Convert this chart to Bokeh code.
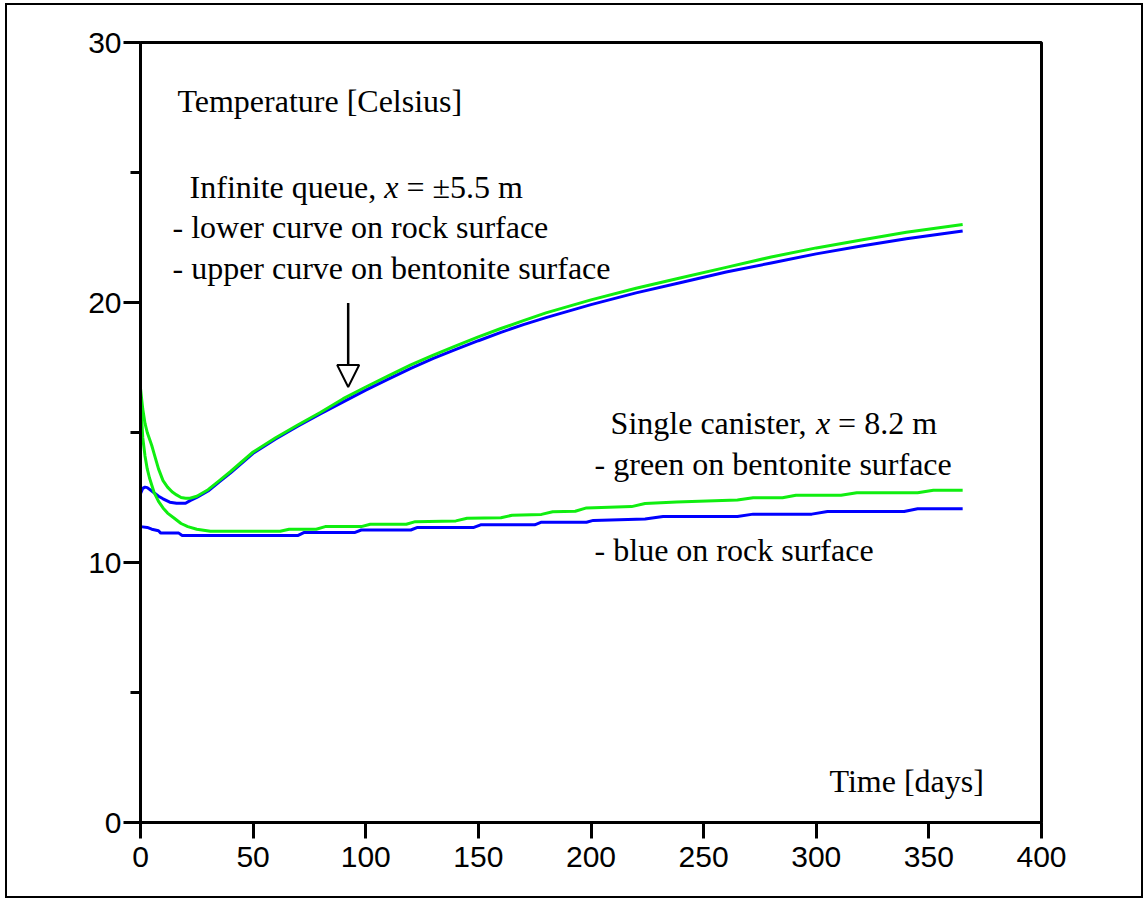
from bokeh.plotting import figure
from bokeh.models import Range1d, FixedTicker, Label, Arrow, NormalHead
from bokeh.embed import file_html
from bokeh.resources import INLINE

# ---- data ----
# Infinite queue, x = ±5.5 m
t_queue_bent = [0, 1, 2, 3, 4, 5, 6, 7, 8, 10, 12, 14, 16, 18, 20, 22, 25, 30, 35, 40, 50, 60, 70, 80, 90,
                100, 110, 120, 130, 140, 150, 160, 170, 180, 190, 200, 220, 240, 260, 280, 300, 320, 340, 365]
temp_queue_bent = [16.7, 15.9, 15.35, 15.0, 14.75, 14.5, 14.2, 13.9, 13.6, 13.15, 12.9, 12.72, 12.6, 12.5, 12.47,
                   12.47, 12.55, 12.8, 13.15, 13.5, 14.25, 14.8, 15.3, 15.78, 16.3, 16.75, 17.18, 17.6, 17.98,
                   18.33, 18.68, 19.0, 19.3, 19.6, 19.85, 20.1, 20.55, 20.95, 21.35, 21.75, 22.1, 22.4, 22.7, 23.0]
t_queue_rock = [0, 1, 2, 3, 5, 8, 10, 13, 16, 20, 22, 25, 30, 35, 40, 50, 60, 70, 80, 90, 100, 110, 120, 130,
                140, 150, 160, 170, 180, 190, 200, 220, 240, 260, 280, 300, 320, 340, 365]
temp_queue_rock = [12.65, 12.85, 12.9, 12.88, 12.75, 12.55, 12.45, 12.32, 12.28, 12.28, 12.38, 12.5, 12.75, 13.1,
                   13.45, 14.2, 14.75, 15.25, 15.72, 16.18, 16.63, 17.05, 17.47, 17.85, 18.2, 18.53, 18.85, 19.15,
                   19.42, 19.67, 19.92, 20.37, 20.77, 21.17, 21.52, 21.87, 22.17, 22.45, 22.75]

# Single canister, x = 8.2 m
t_single_bent = [0, 1, 2, 3, 4, 6, 8, 10, 12, 15, 18, 21, 25, 31, 62, 66, 78, 82, 98, 102, 118, 122, 140, 145,
                 160, 165, 178, 183, 193, 198, 218, 224, 238, 265, 272, 285, 291, 311, 318, 345, 352, 365]
temp_single_bent = [16.3, 14.8, 14.1, 13.6, 13.25, 12.7, 12.35, 12.1, 11.9, 11.7, 11.5, 11.38, 11.28, 11.2, 11.2,
                    11.28, 11.28, 11.38, 11.38, 11.47, 11.47, 11.57, 11.6, 11.7, 11.72, 11.82, 11.85, 11.95,
                    11.97, 12.1, 12.15, 12.27, 12.33, 12.4, 12.49, 12.49, 12.59, 12.59, 12.68, 12.68, 12.78, 12.78]
t_single_rock = [0, 3, 5, 8, 9, 17, 18.5, 70, 72.5, 95, 98, 120, 123, 148, 151, 175, 178, 198, 201, 224, 232,
                 265, 272, 298, 305, 339, 345, 365]
temp_single_rock = [11.38, 11.35, 11.28, 11.22, 11.13, 11.13, 11.04, 11.04, 11.15, 11.15, 11.25, 11.25, 11.35,
                    11.35, 11.45, 11.45, 11.55, 11.55, 11.62, 11.67, 11.77, 11.77, 11.86, 11.86, 11.96, 11.96,
                    12.07, 12.07]

x_ticks = [0, 50, 100, 150, 200, 250, 300, 350, 400]
y_ticks = [0, 10, 20, 30]
y_minor = [5, 15, 25]

GREEN = "#10ee10"
BLUE = "#0000ff"
SERIF = "Liberation Serif"
SANS = "Liberation Sans"
FS = "32px"

p = figure(width=1134, height=891, x_range=Range1d(0, 400), y_range=Range1d(0, 30),
           output_backend="svg", toolbar_location=None,
           min_border_left=133, min_border_right=100, min_border_top=37, min_border_bottom=74)
p.margin = (5, 0, 0, 7)
p.styles = {"outline": "2px solid black", "outline-offset": "0px"}
p.grid.visible = False
p.outline_line_color = "black"
p.outline_line_width = 3
p.outline_line_alpha = 1

for ax in (p.xaxis[0], p.yaxis[0]):
    ax.axis_line_width = 3
    ax.major_tick_line_width = 3
    ax.minor_tick_line_width = 3
    ax.major_tick_in = 0
    ax.minor_tick_in = 0
    ax.major_label_text_font = SANS
    ax.major_label_text_font_size = "30px"
    ax.major_label_text_color = "black"

p.xaxis.ticker = FixedTicker(ticks=x_ticks)
p.xaxis.major_tick_out = 16
p.xaxis.minor_tick_out = 0
p.xaxis.major_label_standoff = 8

p.yaxis.ticker = FixedTicker(ticks=y_ticks, minor_ticks=y_minor)
p.yaxis.major_tick_out = 17
p.yaxis.minor_tick_out = 10
p.yaxis.major_label_standoff = 2

p.line(t_queue_rock, temp_queue_rock, line_color=BLUE, line_width=3)
p.line(t_single_rock, temp_single_rock, line_color=BLUE, line_width=3)
p.line(t_queue_bent, temp_queue_bent, line_color=GREEN, line_width=3)
p.line(t_single_bent, temp_single_bent, line_color=GREEN, line_width=3)


def lab(x, y, text, xoff=0, italic=False):
    p.add_layout(Label(x=x, y=y, x_offset=xoff, text=text, text_font=SERIF, text_font_size=FS,
                       text_font_style="italic" if italic else "normal",
                       text_baseline="alphabetic", text_align="left", text_color="black"))


lab(16.4, 27.76, "Temperature [Celsius]")
lab(21.8, 24.46, "Infinite queue,")
lab(21.8, 24.46, "x", xoff=194.6, italic=True)
lab(21.8, 24.46, "= \u00b15.5 m", xoff=216.8)
lab(14.2, 22.90, "- lower curve on rock surface")
lab(14.2, 21.34, "- upper curve on bentonite surface")
lab(208.7, 15.38, "Single canister,")
lab(208.7, 15.38, "x", xoff=205.3, italic=True)
lab(208.7, 15.38, "= 8.2 m", xoff=227.5)
lab(201.6, 13.80, "- green on bentonite surface")
lab(201.6, 10.47, "- blue on rock surface")
lab(305.9, 1.61, "Time [days]")

p.add_layout(Arrow(end=NormalHead(size=22, fill_color="white", line_color="black", line_width=2),
                   x_start=92.2, y_start=19.98, x_end=92.2, y_end=16.75,
                   line_color="black", line_width=2.5))

open("out.html", "w").write(file_html(p, INLINE))
